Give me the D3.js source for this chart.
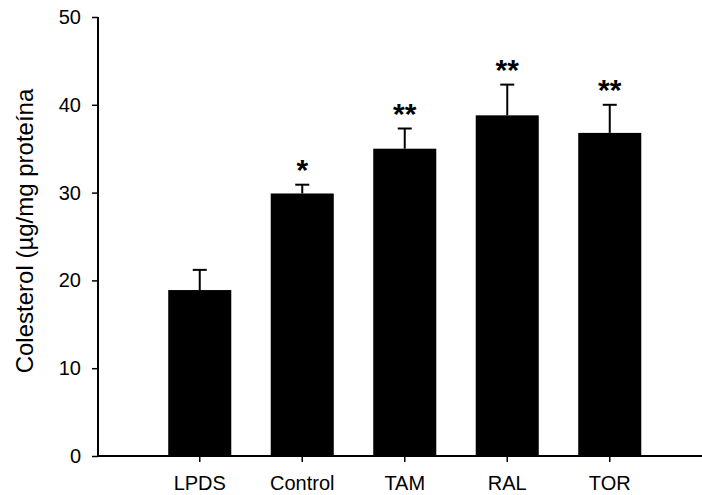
<!DOCTYPE html>
<html>
<head>
<meta charset="utf-8">
<script src="https://cdn.jsdelivr.net/npm/d3@7"></script>
<style>
  html, body { margin: 0; padding: 0; background: #fff; }
  svg { display: block; font-family: "Liberation Sans", Arial, sans-serif; }
</style>
</head>
<body>
<svg id="chart" width="702" height="495"></svg>
<script>
// Cholesterol content per treatment group
const groups = ["LPDS", "Control", "TAM", "RAL", "TOR"];
const means  = [18.9, 29.9, 35.0, 38.8, 36.8];
const errors = [2.3, 1.0, 2.3, 3.5, 3.2];
const marks  = ["", "*", "**", "**", "**"];
const yTicks = [0, 10, 20, 30, 40, 50];

const svg = d3.select("#chart");
const x0 = 98, xEnd = 702, yTop = 17, yBottom = 456;
const font = "'Liberation Sans', Arial, sans-serif";

const y = d3.scaleLinear().domain([0, 50]).range([yBottom, yTop]);
const x = d3.scaleBand()
  .domain(groups)
  .range([148.5, 661])
  .paddingInner(0.385)
  .paddingOuter(0.1925);

const data = groups.map((g, i) => ({ g, v: means[i], e: errors[i], m: marks[i] }));
const cx = d => x(d.g) + x.bandwidth() / 2;

// bars
svg.append("g").selectAll("rect").data(data).join("rect")
  .attr("x", d => x(d.g))
  .attr("y", d => y(d.v))
  .attr("width", x.bandwidth())
  .attr("height", d => y(0) - y(d.v))
  .attr("fill", "#000");

// upper error whiskers
const eb = svg.append("g").attr("stroke", "#000").attr("stroke-width", 2);
eb.selectAll("line.stem").data(data).join("line")
  .attr("class", "stem")
  .attr("x1", cx).attr("x2", cx)
  .attr("y1", d => y(d.v))
  .attr("y2", d => y(d.v + d.e));
eb.selectAll("line.cap").data(data).join("line")
  .attr("class", "cap")
  .attr("x1", d => cx(d) - 7)
  .attr("x2", d => cx(d) + 7)
  .attr("y1", d => y(d.v + d.e))
  .attr("y2", d => y(d.v + d.e));

// significance asterisks
svg.append("g").selectAll("text").data(data.filter(d => d.m)).join("text")
  .attr("x", cx)
  .attr("y", d => y(d.v + d.e) - 5)
  .attr("text-anchor", "middle")
  .attr("font-size", 30)
  .attr("font-weight", "bold")
  .style("font-family", font)
  .text(d => d.m);

// y axis
const yAxis = svg.append("g")
  .attr("transform", `translate(${x0},0)`)
  .call(d3.axisLeft(y).tickValues(yTicks).tickSize(6).tickPadding(11).tickFormat(d3.format("d")));
yAxis.select(".domain").attr("stroke-width", 2).attr("d", `M0,${yTop}V${yBottom + 1}`);
yAxis.selectAll(".tick line").attr("stroke-width", 1.5);
yAxis.selectAll(".tick text").attr("font-size", 20).attr("fill", "#000").style("font-family", font);

// x axis
const xAxis = svg.append("g")
  .attr("transform", `translate(0,${yBottom})`)
  .call(d3.axisBottom(x).tickSize(6).tickPadding(13.5));
xAxis.select(".domain").attr("stroke-width", 2).attr("d", `M${x0 - 1},0H${xEnd}`);
xAxis.selectAll(".tick line").attr("stroke-width", 1.5);
xAxis.selectAll(".tick text").attr("font-size", 20).attr("fill", "#000").style("font-family", font);

// y axis title
svg.append("text")
  .attr("transform", `translate(33,231) rotate(-90)`)
  .attr("text-anchor", "middle")
  .attr("font-size", 24)
  .style("font-family", font)
  .text("Colesterol (µg/mg proteína");
</script>
</body>
</html>
